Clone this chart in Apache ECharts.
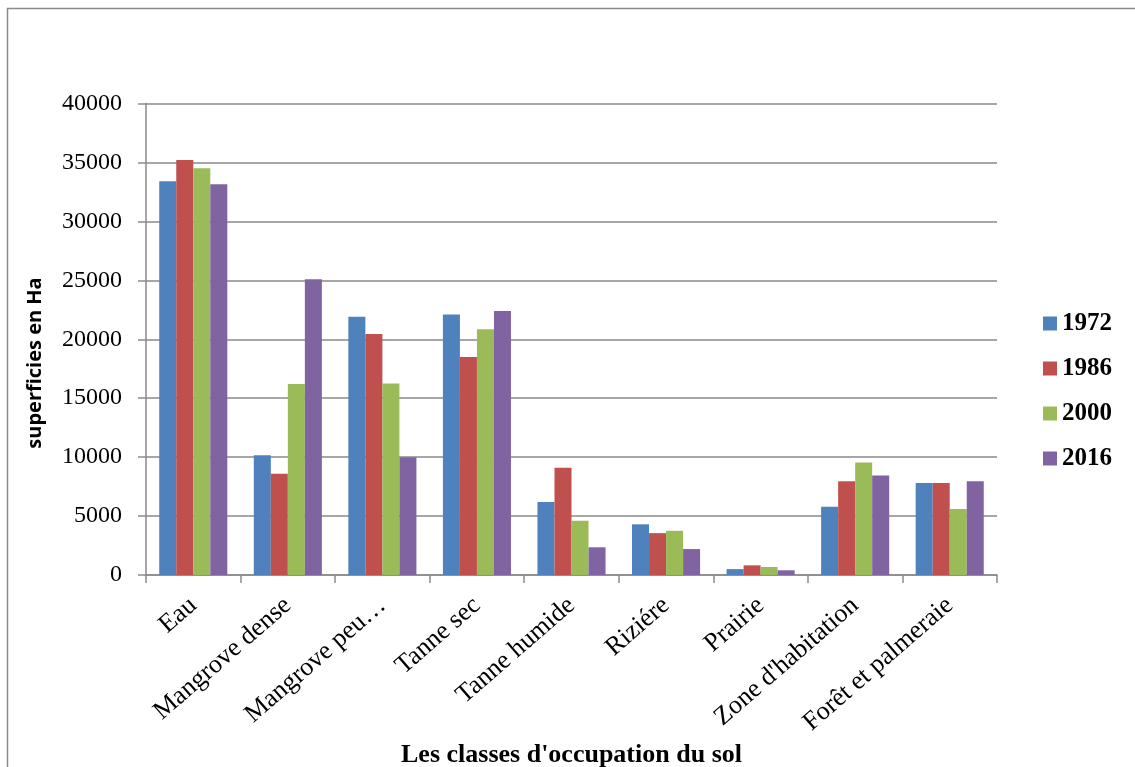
<!DOCTYPE html>
<html>
<head>
<meta charset="utf-8">
<script src="https://cdn.jsdelivr.net/npm/echarts@6/dist/echarts.min.js"></script>
<style>
  html, body { margin: 0; padding: 0; background: #fff; }
  #chart { width: 1135px; height: 767px; }
</style>
</head>
<body>
<div id="chart"></div>
<script>
// Land-cover classes and their areas (ha) per survey year
const categories = ['Eau', 'Mangrove dense', 'Mangrove peu…', 'Tanne sec', 'Tanne humide',
  'Riziére', 'Prairie', "Zone d'habitation", 'Forêt et palmeraie'];
const years = ['1972', '1986', '2000', '2016'];
const v1972 = [33400, 10150, 21900, 22100, 6200, 4300, 500, 5800, 7800];
const v1986 = [35200, 8600, 20450, 18500, 9100, 3550, 820, 7950, 7800];
const v2000 = [34500, 16200, 16250, 20850, 4600, 3750, 680, 9550, 5600];
const v2016 = [33150, 25100, 10000, 22400, 2350, 2200, 400, 8450, 7950];
const yTicks = [0, 5000, 10000, 15000, 20000, 25000, 30000, 35000, 40000];

const colors = ['#4F81BD', '#C0504D', '#9BBB59', '#8064A2'];
const seriesValues = [v1972, v1986, v2000, v2016];
const axisGray = '#8a8a8a';
const serif = '"Liberation Serif", "Times New Roman", serif';

const chart = echarts.init(document.getElementById('chart'), null, { renderer: 'canvas' });

chart.setOption({
  animation: false,
  backgroundColor: '#fff',
  color: colors,
  grid: { left: 146, right: 138, top: 103.5, bottom: 192, containLabel: false, outerBoundsMode: 'none' },
  legend: {
    orient: 'vertical',
    left: 1038,
    top: 306,
    itemWidth: 14,
    itemHeight: 14,
    itemGap: 20,
    icon: 'rect',
    data: years,
    textStyle: { fontFamily: serif, fontSize: 25, fontWeight: 'bold', color: '#000' }
  },
  xAxis: {
    type: 'category',
    data: categories,
    name: "Les classes d'occupation du sol",
    nameLocation: 'middle',
    nameGap: 164,
    nameTextStyle: { fontFamily: serif, fontSize: 26, fontWeight: 'bold', color: '#000' },
    axisLine: { lineStyle: { color: axisGray, width: 1.5 } },
    axisTick: { show: true, length: 8, lineStyle: { color: axisGray, width: 1.5 } },
    axisLabel: { rotate: 41, margin: 27, fontFamily: serif, fontSize: 26, color: '#000', interval: 0 },
    splitLine: { show: false }
  },
  yAxis: {
    type: 'value',
    min: yTicks[0],
    max: yTicks[yTicks.length - 1],
    interval: yTicks[1] - yTicks[0],
    axisLine: { show: true, lineStyle: { color: axisGray, width: 1.5 } },
    axisTick: { show: true, length: 8, lineStyle: { color: axisGray, width: 1.5 } },
    axisLabel: { margin: 24, fontFamily: serif, fontSize: 24, color: '#000', formatter: v => String(v) },
    splitLine: { show: true, lineStyle: { color: axisGray, width: 1.5 } }
  },
  graphic: [
    {
      type: 'rect',
      silent: true,
      shape: { x: 7.5, y: 8.5, width: 1200, height: 800 },
      style: { fill: 'none', stroke: '#8a8a8a', lineWidth: 1.5 }
    },
    {
      type: 'text',
      silent: true,
      x: 35,
      y: 363,
      rotation: Math.PI / 2,
      style: {
        text: 'superficies en Ha',
        fontFamily: '"Open Sans", "Liberation Sans", sans-serif',
        fontWeight: 'bold',
        fontSize: 20,
        fill: '#000',
        textAlign: 'center',
        textVerticalAlign: 'middle'
      }
    }
  ],
  series: years.map((y, i) => ({
    name: y,
    type: 'bar',
    data: seriesValues[i],
    barGap: '0%',
    barCategoryGap: '28%',
    itemStyle: { color: colors[i] }
  }))
});
</script>
</body>
</html>
